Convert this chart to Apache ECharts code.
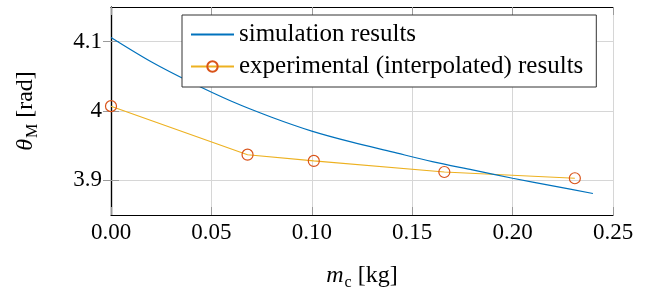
<!DOCTYPE html>
<html>
<head>
<meta charset="utf-8">
<script src="https://cdn.jsdelivr.net/npm/echarts@6/dist/echarts.min.js"></script>
<style>
  html, body { margin: 0; padding: 0; background: #fff; }
  #chart { width: 653px; height: 296px; }
</style>
</head>
<body>
<div id="chart"></div>
<script>
// simulation curve (m_c in kg, theta_M in rad)
const simX = [0, 0.02, 0.04, 0.06, 0.08, 0.10, 0.12, 0.14, 0.16, 0.18, 0.20, 0.22, 0.24];
const simY = [4.106, 4.071, 4.041, 4.014, 3.991, 3.971, 3.955, 3.941, 3.927, 3.915, 3.903, 3.892, 3.881];

// experimental points
const expX = [0, 0.068, 0.101, 0.166, 0.231];
const expY = [4.007, 3.937, 3.928, 3.912, 3.903];

const xTicks = [0, 0.05, 0.10, 0.15, 0.20, 0.25];
const yTicks = [3.9, 4.0, 4.1];

const FONT = 'Liberation Serif';
const tickGray = '#9a9a9a';
const gridGray = '#d6d6d6';

const chart = echarts.init(document.getElementById('chart'), null, { renderer: 'canvas' });

const labelStyle = { fontFamily: FONT, fontSize: 23, color: '#000' };
const rich = {
  i: { fontFamily: FONT, fontSize: 24, fontStyle: 'italic', color: '#000', lineHeight: 24 },
  s: { fontFamily: FONT, fontSize: 16, color: '#000', padding: [14, 0, 0, 1] },
  n: { fontFamily: FONT, fontSize: 24, color: '#000', lineHeight: 24 }
};

chart.setOption({
  animation: false,
  backgroundColor: '#fff',
  grid: { left: 111, right: 40, top: 7, bottom: 74 },
  legend: {
    left: 182, top: 15,
    orient: 'vertical',
    padding: [7, 13, 8, 8],
    itemGap: 7,
    itemWidth: 43, itemHeight: 13,
    backgroundColor: '#fff',
    borderColor: '#333',
    borderWidth: 1,
    textStyle: { fontFamily: FONT, fontSize: 25, color: '#000' },
    data: ['simulation results', 'experimental (interpolated) results']
  },
  xAxis: [{
    type: 'value',
    min: 0, max: 0.25, interval: 0.05,
    name: '{i|m}{s|c}{n| [kg]}',
    nameLocation: 'middle',
    nameGap: 46,
    nameTextStyle: { rich: rich },
    axisLine: { onZero: false, lineStyle: { color: '#000', width: 1.2 } },
    axisTick: { inside: true, length: 8, lineStyle: { color: tickGray } },
    axisLabel: { ...labelStyle, margin: 6, formatter: v => v.toFixed(2), customValues: xTicks },
    splitLine: { show: true, lineStyle: { color: gridGray, width: 1 } }
  }, {
    type: 'value', position: 'top',
    min: 0, max: 0.25, interval: 0.05,
    axisLine: { show: true, lineStyle: { color: '#000', width: 1.2 } },
    axisTick: { show: true, inside: true, length: 8, lineStyle: { color: tickGray } },
    axisLabel: { show: false },
    splitLine: { show: false }
  }],
  yAxis: [{
    type: 'value',
    min: 3.85, max: 4.15, interval: 0.05,
    name: '{i|θ}{s|M}{n| [rad]}',
    nameLocation: 'middle',
    nameGap: 70,
    nameTextStyle: { rich: rich },
    axisLine: { show: true, onZero: false, lineStyle: { color: '#000', width: 1.2 } },
    axisTick: { show: true, inside: true, length: 8, lineStyle: { color: tickGray }, customValues: yTicks },
    axisLabel: { ...labelStyle, margin: 9, formatter: v => String(+v.toFixed(2)), customValues: yTicks },
    splitLine: { show: true, lineStyle: { color: gridGray, width: 1 } }
  }, {
    type: 'value', position: 'right',
    min: 3.85, max: 4.15, interval: 0.05,
    axisLine: { show: true, lineStyle: { color: '#000', width: 1.2 } },
    axisTick: { show: true, inside: true, length: 8, lineStyle: { color: tickGray }, customValues: yTicks },
    axisLabel: { show: false },
    splitLine: { show: false }
  }],
  series: [{
    name: 'simulation results',
    type: 'line',
    data: simX.map((x, i) => [x, simY[i]]),
    smooth: 0.3,
    symbol: 'none',
    itemStyle: { color: 'rgba(0,0,0,0)' },
    lineStyle: { color: '#0072BD', width: 1.2 },
    z: 3
  }, {
    name: 'experimental (interpolated) results',
    type: 'line',
    data: expX.map((x, i) => [x, expY[i]]),
    symbol: 'circle',
    symbolSize: 11,
    itemStyle: { color: 'rgba(0,0,0,0)', borderColor: '#D95319', borderWidth: 1.2 },
    lineStyle: { color: '#EDB120', width: 1.1 },
    z: 2
  }]
});
</script>
</body>
</html>
